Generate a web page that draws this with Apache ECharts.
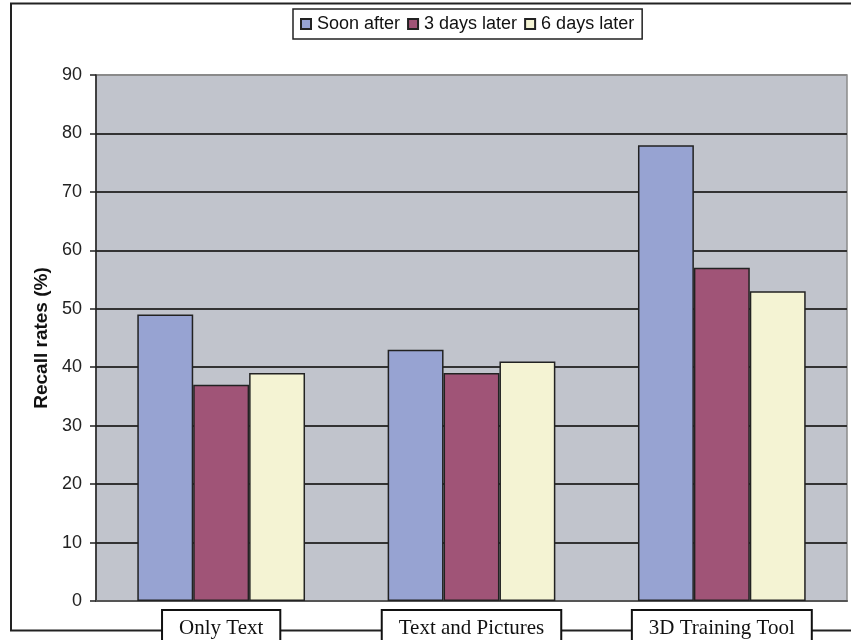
<!DOCTYPE html>
<html>
<head>
<meta charset="utf-8">
<script src="https://cdn.jsdelivr.net/npm/echarts@6/dist/echarts.min.js"></script>
<style>
  html, body { margin: 0; padding: 0; background: #fff; }
  #chart { width: 851px; height: 640px; }
</style>
</head>
<body>
<div id="chart"></div>
<script>
// Recall rates per learning material, measured at three points in time
const categories = ['Only Text', 'Text and Pictures', '3D Training Tool'];
const seriesNames = ['Soon after', '3 days later', '6 days later'];
const soonAfter = [49, 43, 78];
const threeDaysLater = [37, 39, 57];
const sixDaysLater = [39, 41, 53];
const seriesColors = ['#97a3d2', '#a05477', '#f4f3d3'];

const chart = echarts.init(document.getElementById('chart'), null, { renderer: 'canvas' });

const values = [soonAfter, threeDaysLater, sixDaysLater];

// grid lines: dark for 0..80, lighter frame line at the top (90)
const splitColors = ['#333', '#333', '#333', '#333', '#333', '#333', '#333', '#333', '#333', '#8a8a8a'];

chart.setOption({
  animation: false,
  backgroundColor: '#ffffff',
  graphic: [{
    type: 'polyline',
    z: -10,
    shape: { points: [[851, 3.5], [11, 3.5], [11, 630.5], [851, 630.5]] },
    style: { stroke: '#222', lineWidth: 2, fill: null }
  }],
  legend: {
    top: 9,
    left: 293,
    data: seriesNames,
    icon: 'rect',
    itemWidth: 10,
    itemHeight: 10,
    itemGap: 7,
    padding: [6, 8, 6, 7],
    borderColor: '#222',
    borderWidth: 1.5,
    backgroundColor: '#fff',
    textStyle: { fontFamily: 'Liberation Sans, Arial, sans-serif', fontSize: 18, color: '#111', padding: [0, 0, 0, 1] }
  },
  grid: {
    left: 96,
    right: 4,
    top: 75,
    bottom: 39,
    show: true,
    backgroundColor: '#c1c4cc',
    borderColor: '#8a8a8a',
    borderWidth: 1.5,
    containLabel: false,
    outerBoundsMode: 'none'
  },
  xAxis: {
    type: 'category',
    data: categories,
    axisLine: { show: true, lineStyle: { color: '#555', width: 2 } },
    axisTick: { show: false },
    axisLabel: {
      fontFamily: 'Liberation Serif, Times New Roman, serif',
      fontSize: 21,
      lineHeight: 24,
      color: '#111',
      backgroundColor: '#fff',
      borderColor: '#111',
      borderWidth: 2,
      padding: [5, 16, 10, 16],
      margin: 10
    }
  },
  yAxis: {
    type: 'value',
    min: 0,
    max: 90,
    interval: 10,
    name: 'Recall rates (%)',
    nameLocation: 'middle',
    nameGap: 45,
    nameTextStyle: { fontFamily: 'Liberation Sans, Arial, sans-serif', fontSize: 19, fontWeight: 'bold', color: '#111' },
    axisLine: { show: true, lineStyle: { color: '#222', width: 1.5 } },
    axisTick: { show: true, length: 6, lineStyle: { color: '#222', width: 1.5 } },
    axisLabel: { fontFamily: 'Liberation Sans, Arial, sans-serif', fontSize: 18, color: '#222', margin: 14 },
    splitLine: { show: true, lineStyle: { color: splitColors, width: 2 } }
  },
  series: seriesNames.map((name, i) => ({
    name: name,
    type: 'bar',
    data: values[i],
    barGap: '0%',
    barCategoryGap: '33%',
    itemStyle: { color: seriesColors[i], borderColor: '#222', borderWidth: 1.5 }
  }))
});
</script>
</body>
</html>
